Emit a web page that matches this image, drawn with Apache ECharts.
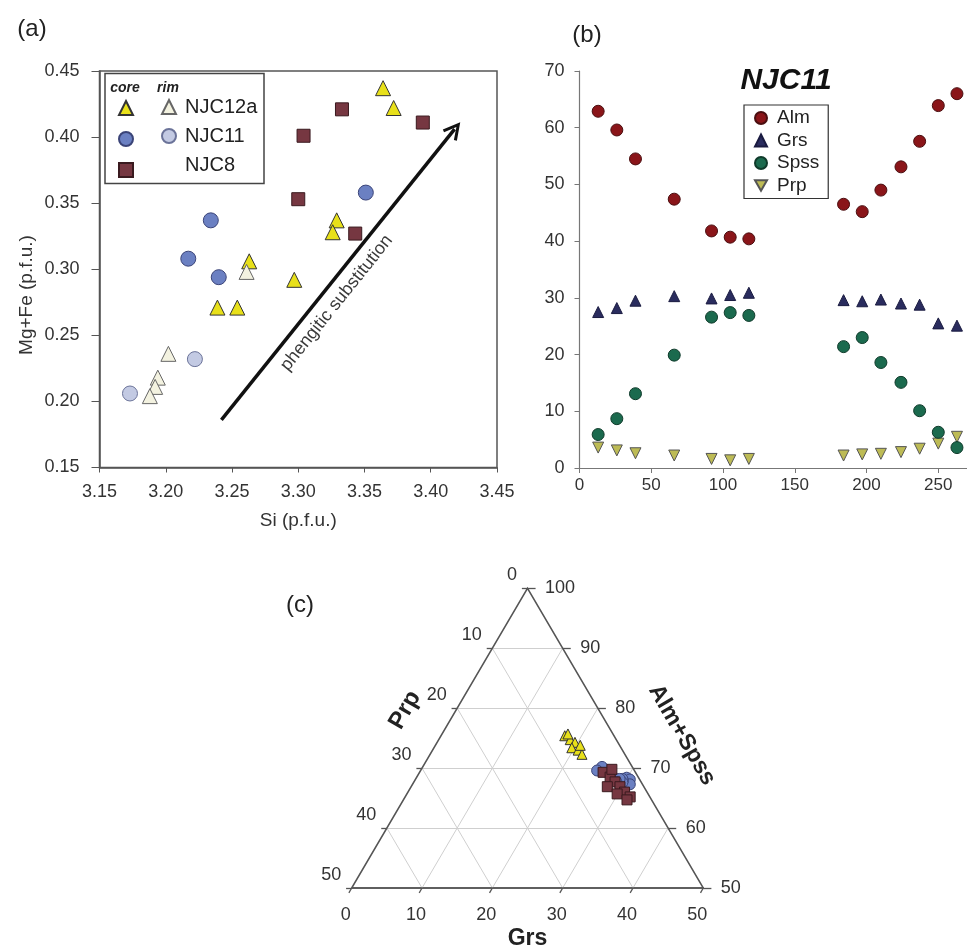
<!DOCTYPE html>
<html><head><meta charset="utf-8">
<script src="https://cdn.jsdelivr.net/npm/echarts@6/dist/echarts.min.js"></script>
<style>html,body{margin:0;padding:0;background:#fff}#c{width:967px;height:951px}</style>
</head><body><div id="c"></div>
<script>
// ---------- Panel (a): Si vs Mg+Fe ----------
const siCoreNJC12a   = [3.364, 3.372, 3.329, 3.326, 3.263, 3.297, 3.239, 3.254];
const mgfeCoreNJC12a = [0.437, 0.422, 0.337, 0.328, 0.306, 0.292, 0.271, 0.271];
const siRimNJC12a    = [3.261, 3.202, 3.194, 3.192, 3.188];
const mgfeRimNJC12a  = [0.298, 0.236, 0.218, 0.211, 0.204];
const siCoreNJC11    = [3.351, 3.234, 3.217, 3.240];
const mgfeCoreNJC11  = [0.358, 0.337, 0.308, 0.294];
const siRimNJC11     = [3.222, 3.173];
const mgfeRimNJC11   = [0.232, 0.206];
const siNJC8         = [3.333, 3.304, 3.394, 3.300, 3.343];
const mgfeNJC8       = [0.421, 0.401, 0.411, 0.353, 0.327];
const arrowStart = [3.242, 0.186];
const arrowEnd   = [3.418, 0.406];
const arrowLabelEnd = [3.396, 0.379];

// ---------- Panel (b): NJC11 profile ----------
const distance = [13, 26, 39, 66, 92, 105, 118, 184, 197, 210, 224, 237, 250, 263];
const alm  = [62.9, 59.6, 54.5, 47.4, 41.8, 40.7, 40.4, 46.5, 45.2, 49.0, 53.1, 57.6, 63.9, 66.0];
const grs  = [27.5, 28.2, 29.5, 30.3, 29.9, 30.5, 30.9, 29.6, 29.4, 29.7, 29.0, 28.8, 25.5, 25.1];
const spss = [5.9, 8.7, 13.1, 19.9, 26.6, 27.4, 26.9, 21.4, 23.0, 18.6, 15.1, 10.1, 6.3, 3.6];
const prp  = [3.6, 3.1, 2.6, 2.2, 1.6, 1.35, 1.6, 2.2, 2.4, 2.5, 2.8, 3.4, 4.3, 5.5];

// ---------- Panel (c): ternary Grs / Prp / Alm+Spss ----------
const ternGrsNJC12a = [17.6, 18.7, 19.6, 19.6, 20.7, 21.6, 17.9, 20.6];
const ternAsNJC12a  = [75.4, 74.75, 74.3, 73.4, 73.0, 72.3, 75.7, 73.8];
const ternGrsNJC8   = [26.1, 27.5, 28.6, 29.7, 30.8, 32.0, 27.9, 29.9, 31.8, 27.1];
const ternAsNJC8    = [69.3, 68.5, 67.7, 66.9, 66.0, 65.2, 66.9, 65.7, 64.7, 69.8];
const ternGridLevels = [10, 20, 30, 40];
const ternGrsTicks = [0, 10, 20, 30, 40, 50];
const ternPrpTicks = [0, 10, 20, 30, 40, 50];
const ternAsTicks  = [100, 90, 80, 70, 60, 50];

const FONT = 'Liberation Sans, Arial, sans-serif';
const zip = (xs, ys) => xs.map((x, i) => [x, ys[i]]);
const SQ = Math.sqrt(3) / 2;
// ternary (Grs, Alm+Spss) -> cartesian of the truncated triangle
const tern = (g, a) => [g + (a - 50) / 2, (a - 50) * SQ];

const ternNJC12a = ternGrsNJC12a.map((g, i) => tern(g, ternAsNJC12a[i]));
const ternNJC8   = ternGrsNJC8.map((g, i) => tern(g, ternAsNJC8[i]));
const ternNJC11  = grs.map((g, i) => tern(g, alm[i] + spss[i]));

// ternary frame, grid and ticks
const outline = [{coords: [tern(0, 50), tern(50, 50), tern(0, 100), tern(0, 50)]}];
const gridSegs = [];
ternGridLevels.forEach(v => {
  gridSegs.push({coords: [tern(v, 50), tern(v, 100 - v)]});             // Grs = v
  gridSegs.push({coords: [tern(50 - v, 50), tern(0, 100 - v)]});        // Prp = v
  gridSegs.push({coords: [tern(0, 50 + v), tern(50 - v, 50 + v)]});     // Alm+Spss = 50+v
});
const tickSegs = [];
ternAsTicks.forEach(a => { const p = tern(100 - a, a); tickSegs.push({coords: [p, [p[0] + 1.15, p[1]]]}); });
ternPrpTicks.forEach(pp => { const p = tern(0, 100 - pp); tickSegs.push({coords: [p, [p[0] - 0.8, p[1]]]}); });
ternGrsTicks.forEach(g => { const p = tern(g, 50); tickSegs.push({coords: [p, [p[0] - 0.4, p[1] - 0.7]]}); });

const lblBase = {color: '#333', fontSize: 18, fontFamily: FONT};
const leftLabels  = ternPrpTicks.map(pp => ({value: tern(0, 100 - pp), name: String(pp)}));
const rightLabels = ternAsTicks.map(a => ({value: tern(100 - a, a), name: String(a)}));

const chevron = 'path://M0,8.66 L5,0 L10,8.66 L8.5,9.4 L5,3.2 L1.5,9.4 Z';
const downTriangle = 'path://M0,0 L10,0 L5,8.66 Z';
const axisTxt = {fontSize: 18, color: '#333', fontFamily: FONT};
const sty = (color, border) => ({color: color, borderColor: border, borderWidth: 1, opacity: 1});

const option = {
  animation: false,
  textStyle: {fontFamily: FONT},
  grid: [
    {left: 99.5, top: 71, width: 397.5, height: 396.5, show: true, borderColor: '#555', borderWidth: 1.5},
    {left: 579.5, top: 71, width: 389.3, height: 397},
    {left: 351.7, top: 588.3, width: 351.6, height: 304.4}
  ],
  xAxis: [
    {gridIndex: 0, type: 'value', min: 3.15, max: 3.45, interval: 0.05,
     axisLine: {show: true, onZero: false, lineStyle: {color: '#555', width: 1.5}},
     axisTick: {show: true, length: 5, lineStyle: {color: '#555'}},
     axisLabel: Object.assign({formatter: v => v.toFixed(2), margin: 16}, axisTxt),
     splitLine: {show: false},
     name: 'Si (p.f.u.)', nameLocation: 'middle', nameGap: 44,
     nameTextStyle: {fontSize: 19, color: '#333', fontFamily: FONT}},
    {gridIndex: 1, type: 'value', min: 0, max: 270, interval: 50,
     axisLine: {show: true, onZero: false, lineStyle: {color: '#777', width: 1.2}},
     axisTick: {show: true, length: 5, lineStyle: {color: '#777'}},
     axisLabel: Object.assign({margin: 9, showMaxLabel: false}, axisTxt, {fontSize: 17}),
     splitLine: {show: false}},
    {gridIndex: 2, type: 'value', min: 0, max: 50, interval: 10,
     axisLine: {show: true, onZero: false, lineStyle: {color: '#555', width: 1.5}},
     axisTick: {show: false},
     axisLabel: Object.assign({margin: 18, padding: [0, 12, 0, 0]}, axisTxt),
     splitLine: {show: false},
     name: 'Grs', nameLocation: 'middle', nameGap: 39,
     nameTextStyle: {fontSize: 23, fontWeight: 'bold', color: '#222', fontFamily: FONT}}
  ],
  yAxis: [
    {gridIndex: 0, type: 'value', min: 0.15, max: 0.45, interval: 0.05,
     axisLine: {show: true, onZero: false, lineStyle: {color: '#555', width: 1.5}},
     axisTick: {show: true, length: 8, lineStyle: {color: '#555'}},
     axisLabel: Object.assign({formatter: v => v.toFixed(2), margin: 20}, axisTxt),
     splitLine: {show: false}},
    {gridIndex: 1, type: 'value', min: 0, max: 70, interval: 10,
     axisLine: {show: true, onZero: false, lineStyle: {color: '#777', width: 1.2}},
     axisTick: {show: true, length: 5, lineStyle: {color: '#777'}},
     axisLabel: Object.assign({margin: 15}, axisTxt),
     splitLine: {show: false}},
    {gridIndex: 2, type: 'value', min: 0, max: 25 * Math.sqrt(3), show: false}
  ],
  legend: [
    {data: ['NJC12a core', 'NJC11 core', 'NJC8 core'], orient: 'vertical', left: 118, top: 100,
     itemWidth: 14, itemHeight: 14, itemGap: 15, padding: 0, selectedMode: false,
     formatter: () => '', textStyle: {fontSize: 1}},
    {data: ['NJC12a', 'NJC11', {name: 'NJC8', itemStyle: {opacity: 0}}], orient: 'vertical', left: 161, top: 97,
     itemWidth: 14, itemHeight: 14, itemGap: 9, padding: 0, selectedMode: false,
     textStyle: {fontSize: 20, lineHeight: 20, color: '#222', fontFamily: FONT, padding: [0, 0, 0, 4]}},
    {data: ['Alm', 'Grs', 'Spss', 'Prp'], orient: 'vertical', left: 744, top: 105,
     itemWidth: 12, itemHeight: 12, itemGap: 2.5, padding: [3, 9, 3, 10],
     borderColor: '#333', borderWidth: 1.2, selectedMode: false,
     textStyle: {fontSize: 19, lineHeight: 20, color: '#222', fontFamily: FONT, padding: [0, 0, 0, 5]}}
  ],
  series: [
    // ---- panel (a)
    {name: 'NJC12a core', type: 'scatter', xAxisIndex: 0, yAxisIndex: 0, data: zip(siCoreNJC12a, mgfeCoreNJC12a),
     symbol: 'triangle', symbolSize: 15, itemStyle: sty('#E8E01A', '#333')},
    {name: 'NJC12a', type: 'scatter', xAxisIndex: 0, yAxisIndex: 0, data: zip(siRimNJC12a, mgfeRimNJC12a),
     symbol: 'triangle', symbolSize: 15, itemStyle: sty('#F3F2E0', '#666')},
    {name: 'NJC11 core', type: 'scatter', xAxisIndex: 0, yAxisIndex: 0, data: zip(siCoreNJC11, mgfeCoreNJC11),
     symbol: 'circle', symbolSize: 15, itemStyle: sty('#6B80C2', '#3B4478')},
    {name: 'NJC11', type: 'scatter', xAxisIndex: 0, yAxisIndex: 0, data: zip(siRimNJC11, mgfeRimNJC11),
     symbol: 'circle', symbolSize: 15, itemStyle: sty('#C3CAE3', '#6B7399')},
    {name: 'NJC8 core', type: 'scatter', xAxisIndex: 0, yAxisIndex: 0, data: zip(siNJC8, mgfeNJC8),
     symbol: 'rect', symbolSize: 13, itemStyle: sty('#763741', '#3A1A1F'),
     markLine: {
       silent: true, animation: false, symbol: ['none', chevron], symbolSize: 18,
       lineStyle: {color: '#111', width: 3.5, type: 'solid', opacity: 1},
       label: {show: false},
       data: [
         [{coord: arrowStart}, {coord: arrowEnd}],
         [{coord: arrowStart, symbol: 'none', lineStyle: {color: 'rgba(0,0,0,0)', width: 0},
           label: {show: true, position: 'insideMiddleBottom', formatter: 'phengitic substitution',
                   color: '#3a3a3a', fontSize: 18, fontFamily: FONT, distance: 8}},
          {coord: arrowLabelEnd, symbol: 'none'}]
       ]
     }},
    {name: 'NJC8', type: 'scatter', xAxisIndex: 0, yAxisIndex: 0, data: [],
     itemStyle: {color: 'rgba(0,0,0,0)', borderWidth: 0}},
    // ---- panel (b)
    {name: 'Alm', type: 'scatter', xAxisIndex: 1, yAxisIndex: 1, data: zip(distance, alm),
     symbol: 'circle', symbolSize: 12, itemStyle: sty('#8A1519', '#4A0E10')},
    {name: 'Grs', type: 'scatter', xAxisIndex: 1, yAxisIndex: 1, data: zip(distance, grs),
     symbol: 'triangle', symbolSize: 11, itemStyle: sty('#2A2C5E', '#1A1B40')},
    {name: 'Prp', type: 'scatter', xAxisIndex: 1, yAxisIndex: 1, data: zip(distance, prp),
     symbol: downTriangle, symbolSize: 11, itemStyle: sty('#BDBB55', '#555')},
    {name: 'Spss', type: 'scatter', xAxisIndex: 1, yAxisIndex: 1, data: zip(distance, spss),
     symbol: 'circle', symbolSize: 12, itemStyle: sty('#1B6A4E', '#0F3A2A')},
    // ---- panel (c)
    {type: 'lines', coordinateSystem: 'cartesian2d', xAxisIndex: 2, yAxisIndex: 2, silent: true, clip: false,
     data: gridSegs, lineStyle: {color: '#cfcfcf', width: 1, opacity: 1}, z: 1},
    {type: 'lines', coordinateSystem: 'cartesian2d', xAxisIndex: 2, yAxisIndex: 2, silent: true, clip: false,
     data: tickSegs, lineStyle: {color: '#555', width: 1.3, opacity: 1}, z: 2},
    {type: 'lines', coordinateSystem: 'cartesian2d', xAxisIndex: 2, yAxisIndex: 2, silent: true, clip: false,
     polyline: true, data: outline, lineStyle: {color: '#555', width: 1.5, opacity: 1}, z: 2},
    {type: 'scatter', xAxisIndex: 2, yAxisIndex: 2, silent: true, data: leftLabels, symbolSize: 1,
     itemStyle: {color: 'rgba(0,0,0,0)', opacity: 1},
     label: Object.assign({show: true, position: 'left', distance: 10, offset: [0, -13], formatter: '{b}'}, lblBase)},
    {type: 'scatter', xAxisIndex: 2, yAxisIndex: 2, silent: true, data: rightLabels, symbolSize: 1,
     itemStyle: {color: 'rgba(0,0,0,0)', opacity: 1},
     label: Object.assign({show: true, position: 'right', distance: 17, formatter: '{b}'}, lblBase)},
    {name: 'NJC12a tern', type: 'scatter', xAxisIndex: 2, yAxisIndex: 2, data: ternNJC12a, z: 3,
     symbol: 'triangle', symbolSize: 10, itemStyle: sty('#E8E01A', '#333')},
    {name: 'NJC11 tern', type: 'scatter', xAxisIndex: 2, yAxisIndex: 2, data: ternNJC11, z: 3,
     symbol: 'circle', symbolSize: 11, itemStyle: sty('#6B80C2', '#3B4478')},
    {name: 'NJC8 tern', type: 'scatter', xAxisIndex: 2, yAxisIndex: 2, data: ternNJC8, z: 3,
     symbol: 'rect', symbolSize: 10, itemStyle: sty('#763741', '#3A1A1F')}
  ],
  graphic: [
    {type: 'text', x: 32, y: 29, style: {text: '(a)', font: '24px ' + FONT, fill: '#222', textAlign: 'center', textVerticalAlign: 'middle'}},
    {type: 'text', x: 587, y: 35, style: {text: '(b)', font: '24px ' + FONT, fill: '#222', textAlign: 'center', textVerticalAlign: 'middle'}},
    {type: 'text', x: 300, y: 605, style: {text: '(c)', font: '24px ' + FONT, fill: '#222', textAlign: 'center', textVerticalAlign: 'middle'}},
    {type: 'rect', shape: {x: 105, y: 73.5, width: 159, height: 110}, style: {fill: 'rgba(0,0,0,0)', stroke: '#444', lineWidth: 1.5}, z: 5},
    {type: 'text', x: 125, y: 88, style: {text: 'core', font: 'italic bold 14px ' + FONT, fill: '#222', textAlign: 'center', textVerticalAlign: 'middle'}},
    {type: 'text', x: 168, y: 88, style: {text: 'rim', font: 'italic bold 14px ' + FONT, fill: '#222', textAlign: 'center', textVerticalAlign: 'middle'}},
    {type: 'text', x: 27, y: 295, rotation: Math.PI / 2, style: {text: 'Mg+Fe (p.f.u.)', font: '19px ' + FONT, fill: '#333', textAlign: 'center', textVerticalAlign: 'middle'}},
    {type: 'text', x: 786, y: 81, style: {text: 'NJC11', font: 'italic bold 30px ' + FONT, fill: '#111', textAlign: 'center', textVerticalAlign: 'middle'}},
    {type: 'text', x: 405, y: 710, rotation: Math.PI / 3, style: {text: 'Prp', font: 'bold 24px ' + FONT, fill: '#222', textAlign: 'center', textVerticalAlign: 'middle'}},
    {type: 'text', x: 682, y: 735, rotation: -Math.PI / 3, style: {text: 'Alm+Spss', font: 'bold 23px ' + FONT, fill: '#222', textAlign: 'center', textVerticalAlign: 'middle'}}
  ]
};
echarts.init(document.getElementById('c')).setOption(option);
</script>
</body></html>
